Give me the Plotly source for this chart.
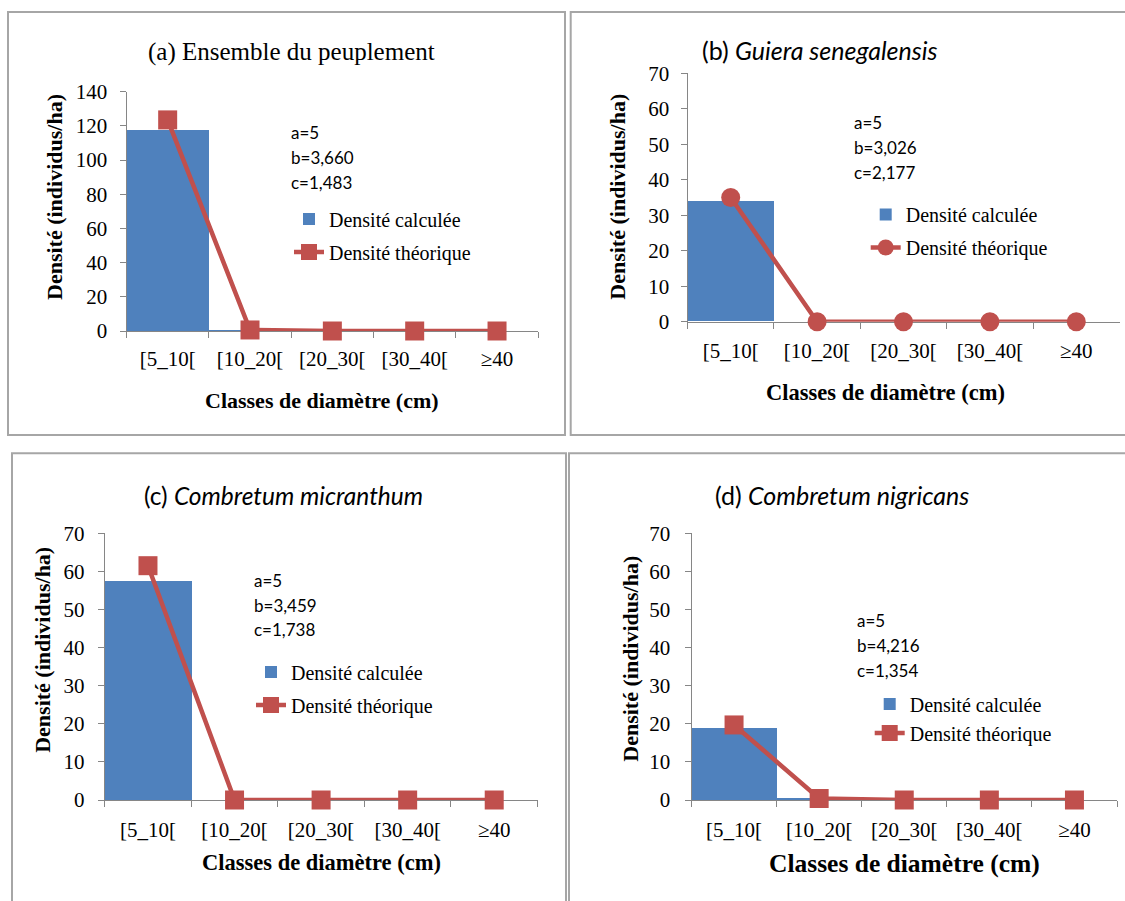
import plotly.graph_objects as go

# ---------------- data ----------------
categories = ["[5_10[", "[10_20[", "[20_30[", "[30_40[", "≥40"]

calc_a = [118.0, 0.5, 0.0, 0.0, 0.0]
theo_a = [123.5, 0.6, 0.0, 0.0, 0.0]
calc_b = [34.0, 0.0, 0.0, 0.0, 0.0]
theo_b = [35.0, 0.0, 0.0, 0.0, 0.0]
calc_c = [57.5, 0.0, 0.0, 0.0, 0.0]
theo_c = [61.5, 0.0, 0.0, 0.0, 0.0]
calc_d = [18.7, 0.3, 0.0, 0.0, 0.0]
theo_d = [19.7, 0.4, 0.0, 0.0, 0.0]

panel_titles = ["(a) Ensemble du peuplement",
                "(b) <i>Guiera senegalensis</i>",
                "(c) <i>Combretum micranthum</i>",
                "(d) <i>Combretum nigricans</i>"]
params_a = ["a=5", "b=3,660", "c=1,483"]
params_b = ["a=5", "b=3,026", "c=2,177"]
params_c = ["a=5", "b=3,459", "c=1,738"]
params_d = ["a=5", "b=4,216", "c=1,354"]
y_max = [140, 70, 70, 70]
y_step = [20, 10, 10, 10]
name_calc = "Densité calculée"
name_theo = "Densité théorique"
y_title = "Densité (individus/ha)"
x_title = "Classes de diamètre (cm)"

calc_all = [calc_a, calc_b, calc_c, calc_d]
theo_all = [theo_a, theo_b, theo_c, theo_d]
params_all = [params_a, params_b, params_c, params_d]

# ---------------- layout helpers (pixels -> paper) ----------------
W, H = 1125, 901
def fx(p):
    return p / W
def fy(p):
    return 1 - p / H

SERIF = "Liberation Serif"
SANS = "Lato"
BLUE = "#4F81BD"
RED = "#C0504D"
AXIS = "#868686"
BORDER = "#A6A6A6"

panels = [
    dict(area=(126.5, 538.2, 91.7, 331.0), title=(291, 52, SERIF, 25),
         par=(289, [132, 157, 182]), ytl=(55, 197), xtl=(322, 400, 22),
         leg=(329, 215.5), gap=4, sym="square", tick=21, ysd=8, xsd=9),
    dict(area=(687.5, 1119.5, 73.3, 321.7), title=(819.5, 50, SANS, 25),
         par=(852, [122.7, 147.7, 172.3]), ytl=(617.7, 197), xtl=(885, 393, 22.5),
         leg=(905.7, 211), gap=4, sym="circle", tick=21, ysd=7, xsd=10),
    dict(area=(104.7, 537.5, 533.3, 800.0), title=(283.6, 495, SANS, 24.5),
         par=(251.6, [580.7, 605, 629]), ytl=(41.8, 650), xtl=(321, 862, 22.5),
         leg=(291, 668.5), gap=4, sym="square", tick=21, ysd=9, xsd=11),
    dict(area=(691.5, 1117.0, 533.3, 800.0), title=(842, 495, SANS, 25),
         par=(854.8, [620, 645, 670]), ytl=(629.7, 659), xtl=(904, 863, 25.5),
         leg=(909.7, 700.5), gap=0, sym="square", tick=21, ysd=10, xsd=11),
]

fig = go.Figure()
annotations = []
layout_axes = {}

for i, p in enumerate(panels):
    n = i + 1
    xa = "x" if n == 1 else f"x{n}"
    ya = "y" if n == 1 else f"y{n}"
    lg = "legend" if n == 1 else f"legend{n}"
    fig.add_trace(go.Bar(x=categories, y=calc_all[i], name=name_calc,
                         marker=dict(color=BLUE, line=dict(width=0)),
                         xaxis=xa, yaxis=ya, legend=lg, legendgroup=f"c{n}"))
    fig.add_trace(go.Scatter(x=categories, y=theo_all[i], name=name_theo,
                             mode="lines+markers",
                             line=dict(color=RED, width=4.5),
                             marker=dict(symbol=p["sym"], size=19, color=RED),
                             cliponaxis=False,
                             xaxis=xa, yaxis=ya, legend=lg, legendgroup=f"t{n}"))
    x0, x1, yt, yb = p["area"]
    xkey = "xaxis" if n == 1 else f"xaxis{n}"
    ykey = "yaxis" if n == 1 else f"yaxis{n}"
    layout_axes[xkey] = dict(
        domain=[fx(x0), fx(x1)], anchor=ya, type="category", automargin=False,
        range=[-0.5, 4.5], showline=True, linecolor=AXIS, linewidth=1,
        ticks="outside", tickson="boundaries", ticklen=6, tickcolor=AXIS,
        ticklabelstandoff=p["xsd"],
        tickfont=dict(family=SERIF, size=p["tick"], color="black"),
        showgrid=False, zeroline=False, layer="below traces", fixedrange=True)
    layout_axes[ykey] = dict(
        domain=[fy(yb), fy(yt)], anchor=xa, range=[0, y_max[i]], dtick=y_step[i],
        automargin=False, ticklabelstandoff=p["ysd"],
        showline=True, linecolor=AXIS, linewidth=1, ticks="outside", ticklen=6,
        tickcolor=AXIS, tickfont=dict(family=SERIF, size=p["tick"], color="black"),
        showgrid=False, zeroline=False, layer="below traces", fixedrange=True)
    layout_axes[lg] = dict(
        x=fx(p["leg"][0] - 40), y=fy(p["leg"][1] - 16), xanchor="left", yanchor="top",
        font=dict(family=SERIF, size=20, color="black"), bgcolor="rgba(0,0,0,0)",
        traceorder="grouped", tracegroupgap=p["gap"], borderwidth=0)

    tx, ty, tf, ts = p["title"]
    annotations.append(dict(x=fx(tx), y=fy(ty), xref="paper", yref="paper",
                            text=panel_titles[i], showarrow=False, xanchor="center",
                            yanchor="middle", font=dict(family=tf, size=ts, color="black")))
    px0, pys = p["par"]
    for txt, yy in zip(params_all[i], pys):
        annotations.append(dict(x=fx(px0), y=fy(yy), xref="paper", yref="paper",
                                text=txt, showarrow=False, xanchor="left", yanchor="middle",
                                font=dict(family=SANS, size=17, color="black")))
    yx, yy = p["ytl"]
    annotations.append(dict(x=fx(yx), y=fy(yy), xref="paper", yref="paper",
                            text=f"<b>{y_title}</b>", textangle=-90, showarrow=False,
                            xanchor="center", yanchor="middle",
                            font=dict(family=SERIF, size=22, color="black")))
    xx, xy, xs = p["xtl"]
    annotations.append(dict(x=fx(xx), y=fy(xy), xref="paper", yref="paper",
                            text=f"<b>{x_title}</b>", showarrow=False,
                            xanchor="center", yanchor="middle",
                            font=dict(family=SERIF, size=xs, color="black")))

borders = [(8, 565, 12, 435), (570.7, 1135, 12, 435), (12, 566, 453.3, 910), (569, 1135, 453.3, 910)]
shapes = [dict(type="rect", xref="paper", yref="paper", x0=fx(a), x1=fx(b), y0=fy(d), y1=fy(c),
               line=dict(color=BORDER, width=2), fillcolor="rgba(0,0,0,0)", layer="below")
          for a, b, c, d in borders]

fig.update_layout(width=W, height=H, autosize=False,
                  margin=dict(l=0, r=0, t=0, b=0, pad=0, autoexpand=False),
                  paper_bgcolor="white", plot_bgcolor="rgba(0,0,0,0)",
                  bargap=0, barmode="overlay", showlegend=True,
                  annotations=annotations, shapes=shapes, **layout_axes)

fig.write_html("out.html", config={"displayModeBar": False},
               post_script="document.body.style.margin='0';"
                           "document.documentElement.style.overflow='hidden';"
                           "document.body.style.overflow='hidden';")
